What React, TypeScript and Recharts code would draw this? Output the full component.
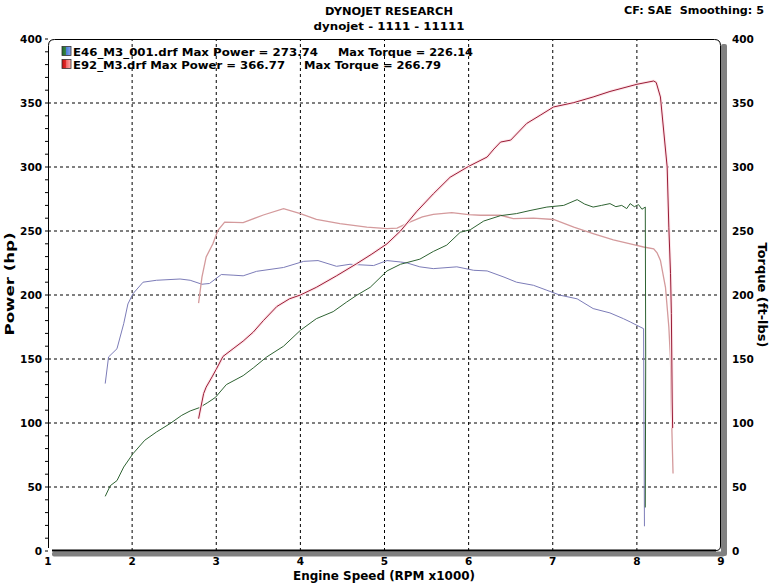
import React from 'react';
import { LineChart, Line, XAxis, YAxis, ReferenceLine } from 'recharts';

// ---- data (rpm x1000, value) ----
const e46PowerPts: [number, number][] = [
  [1.68, 42.7], [1.74, 51], [1.82, 55], [1.9, 65.6], [2.01, 76], [2.15, 86.5], [2.29, 93],
  [2.45, 99.5], [2.59, 106], [2.69, 109.4], [2.8, 112], [2.9, 116], [2.99, 120], [3.12, 130],
  [3.32, 137], [3.44, 143], [3.6, 151.6], [3.8, 160], [4.0, 172.4], [4.19, 181.5], [4.39, 187],
  [4.55, 194.5], [4.67, 199.8], [4.83, 206], [5.03, 218.8], [5.19, 224], [5.42, 228], [5.58, 234],
  [5.74, 239], [5.9, 249], [6.02, 251], [6.18, 257.8], [6.38, 262], [6.57, 263.6], [6.73, 266],
  [6.93, 268.7], [7.13, 270], [7.29, 274.5], [7.38, 271], [7.48, 268.7], [7.58, 270], [7.68, 271.4],
  [7.75, 269], [7.82, 270], [7.88, 267.5], [7.92, 271.4], [7.97, 269], [8.02, 270.6], [8.06, 267],
  [8.1, 268.7], [8.105, 150], [8.1, 34],
];

const e46TorquePts: [number, number][] = [
  [1.68, 130.8], [1.72, 151.6], [1.82, 158], [1.9, 177.6], [1.95, 193], [2.01, 201], [2.13, 210],
  [2.29, 211.5], [2.57, 212.5], [2.69, 211.5], [2.83, 208.4], [2.92, 209], [3.06, 216], [3.2, 215.5],
  [3.32, 215], [3.48, 218.5], [3.8, 221.5], [4.04, 226.3], [4.21, 226.9], [4.43, 222.4], [4.59, 224],
  [4.87, 223], [5.03, 226.9], [5.19, 225.8], [5.27, 225], [5.42, 222], [5.58, 220.6], [5.86, 222],
  [6.06, 219.3], [6.22, 218.8], [6.42, 214], [6.57, 210], [6.77, 207.6], [6.93, 203.7], [7.09, 199.8],
  [7.29, 197], [7.48, 189.4], [7.68, 186], [7.84, 181.5], [7.92, 179], [8.0, 176.3], [8.08, 173.7],
  [8.09, 19.3],
];

const e92PowerPts: [number, number][] = [
  [2.79, 103.4], [2.85, 123], [2.88, 128], [2.95, 136], [3.0, 142], [3.08, 152], [3.2, 158],
  [3.32, 164], [3.44, 171], [3.56, 180], [3.72, 191], [3.87, 197], [4.0, 200], [4.19, 206],
  [4.43, 215], [4.67, 224.5], [4.85, 232], [5.03, 240], [5.19, 250], [5.38, 265], [5.58, 279],
  [5.78, 292], [6.0, 300.5], [6.22, 307.8], [6.3, 314], [6.38, 319.5], [6.5, 321], [6.69, 334],
  [6.85, 340.4], [7.01, 346.9], [7.25, 350.3], [7.48, 354.7], [7.68, 359], [8.0, 364.6],
  [8.2, 367.2], [8.23, 366], [8.28, 354.7], [8.36, 300], [8.38, 253], [8.4, 216.7], [8.41, 185.5],
  [8.42, 116.4], [8.425, 96],
];

const e92TorquePts: [number, number][] = [
  [2.79, 193.7], [2.83, 214], [2.88, 229.7], [2.96, 240], [3.02, 250.5], [3.1, 257], [3.32, 256.5],
  [3.56, 262.5], [3.8, 267.5], [4.0, 263.6], [4.19, 259], [4.47, 255.8], [4.79, 253], [5.03, 251.8],
  [5.15, 252.3], [5.3, 257], [5.45, 261], [5.58, 263], [5.8, 264.4], [6.0, 262.8], [6.14, 262.3],
  [6.38, 262.3], [6.53, 259.7], [6.77, 260], [7.01, 259], [7.25, 253], [7.48, 248], [7.72, 243],
  [7.96, 239.4], [8.08, 237.5], [8.2, 236], [8.24, 233], [8.28, 227], [8.34, 206], [8.38, 175],
  [8.4, 149], [8.41, 110], [8.43, 60.5],
];

const rpmTicks = [1, 2, 3, 4, 5, 6, 7, 8, 9];
const rpmGrid = [2, 3, 4, 5, 6, 7, 8];
const valueGrid = [50, 100, 150, 200, 250, 300, 350];
const valueTicks = Array.from({ length: 41 }, (_, i) => i * 10);
const rpmMinorTicks = Array.from({ length: 41 }, (_, i) => Math.round((1 + i * 0.2) * 10) / 10);

const legendRows = [
  { file: 'E46_M3_001.drf Max Power = 273.74', torque: 'Max Torque = 226.14' },
  { file: 'E92_M3.drf Max Power = 366.77', torque: 'Max Torque = 266.79' },
];

const toRows = (pts: [number, number][]) => pts.map(([rpm, v]) => ({ rpm, v }));

const FONT = "'DejaVu Sans', Verdana, sans-serif";
const W = 769;
const H = 583;

const tickStyle = { fill: '#000', fontSize: 10.5, fontFamily: FONT, fontWeight: 'bold' as const };
const fmt50 = (v: number) => (v % 50 === 0 ? String(v) : '');

export default function App() {
  return (
    <div style={{ position: 'absolute', left: 0, top: 0, width: W, height: H, background: '#fff' }}>
      <LineChart width={W} height={H} margin={{ top: 39, right: 8, bottom: 12, left: 8 }}>
        <XAxis
          xAxisId="x"
          dataKey="rpm"
          type="number"
          domain={[1, 9]}
          ticks={rpmTicks}
          allowDataOverflow
          height={20}
          axisLine={false}
          tickLine={false}
          tickSize={4}
          tickMargin={3}
          tick={tickStyle}
          interval={0}
        />
        <XAxis
          xAxisId="xm"
          type="number"
          domain={[1, 9]}
          ticks={rpmMinorTicks}
          allowDataOverflow
          mirror
          height={20}
          axisLine={false}
          tickLine={{ stroke: '#000' }}
          tickSize={3}
          tick={false}
          interval={0}
        />
        <YAxis
          yAxisId="left"
          type="number"
          domain={[0, 400]}
          ticks={valueTicks}
          allowDataOverflow
          width={40}
          axisLine={false}
          tickLine={{ stroke: '#000' }}
          tickSize={3}
          tickMargin={3}
          tickFormatter={fmt50}
          tick={tickStyle}
          interval={0}
        />
        <YAxis
          yAxisId="leftm"
          type="number"
          domain={[0, 400]}
          ticks={valueTicks}
          allowDataOverflow
          mirror
          width={40}
          axisLine={false}
          tickLine={{ stroke: '#000' }}
          tickSize={4}
          tick={false}
          interval={0}
        />
        <YAxis
          yAxisId="right"
          orientation="right"
          type="number"
          domain={[0, 400]}
          ticks={valueTicks}
          allowDataOverflow
          width={40}
          axisLine={false}
          tickLine={false}
          tickSize={4}
          tickMargin={7}
          tickFormatter={fmt50}
          tick={tickStyle}
          interval={0}
        />
        <YAxis
          yAxisId="rightm"
          orientation="right"
          type="number"
          domain={[0, 400]}
          ticks={valueTicks}
          allowDataOverflow
          mirror
          width={40}
          axisLine={false}
          tickLine={{ stroke: '#000' }}
          tickSize={4}
          tick={false}
          interval={0}
        />

        {rpmGrid.map((g) => (
          <ReferenceLine key={'vx' + g} xAxisId="x" yAxisId="left" x={g} stroke="#000" strokeDasharray="3 3" />
        ))}
        {valueGrid.map((g) => (
          <ReferenceLine key={'hy' + g} xAxisId="x" yAxisId="left" y={g} stroke="#000" strokeDasharray="3 3" />
        ))}

        <Line data={toRows(e46TorquePts)} dataKey="v" xAxisId="x" yAxisId="left" type="linear" dot={false}
          stroke="#7c7cb8" strokeWidth={1} isAnimationActive={false} />
        <Line data={toRows(e92TorquePts)} dataKey="v" xAxisId="x" yAxisId="left" type="linear" dot={false}
          stroke="#d49a9c" strokeWidth={1.3} isAnimationActive={false} />
        <Line data={toRows(e46PowerPts)} dataKey="v" xAxisId="x" yAxisId="left" type="linear" dot={false}
          stroke="#2e6332" strokeWidth={1} isAnimationActive={false} />
        <Line data={toRows(e92PowerPts)} dataKey="v" xAxisId="x" yAxisId="left" type="linear" dot={false}
          stroke="#fde6ea" strokeWidth={3} isAnimationActive={false} />
        <Line data={toRows(e92PowerPts)} dataKey="v" xAxisId="x" yAxisId="left" type="linear" dot={false}
          stroke="#9a1c36" strokeWidth={1} isAnimationActive={false} />
      </LineChart>

      <svg width={W} height={H} style={{ position: 'absolute', left: 0, top: 0, pointerEvents: 'none' }}>
        <defs>
          <linearGradient id="g46" x1="0" x2="1" y1="0" y2="0">
            <stop offset="0" stopColor="#1f6a2c" />
            <stop offset="0.5" stopColor="#3f8a4a" />
            <stop offset="0.5" stopColor="#4f7fd8" />
            <stop offset="1" stopColor="#8aa8f0" />
          </linearGradient>
          <linearGradient id="g92" x1="0" x2="1" y1="0" y2="0">
            <stop offset="0" stopColor="#c01010" />
            <stop offset="0.5" stopColor="#e83030" />
            <stop offset="0.5" stopColor="#f06a6a" />
            <stop offset="1" stopColor="#ffb0b0" />
          </linearGradient>
        </defs>

        {/* frame */}
        <rect x={721} y={44} width={6} height={512} fill="#808080" rx={2} />
        <rect x={52} y={551.5} width={673} height={5} fill="#808080" rx={2} />
        <path
          d="M48.5 548 L48.5 45.5 Q48.5 39.5 54.5 39.5 L714.5 39.5 Q720.5 39.5 720.5 45.5 L720.5 546 Q720.5 550.5 716 550.5"
          fill="none" stroke="#000" strokeWidth={1}
        />
        <line x1={52} y1={550.5} x2={716} y2={550.5} stroke="#000" strokeWidth={2} />

        {/* titles */}
        <text x={389} y={15} textAnchor="middle" fontFamily={FONT} fontWeight="bold" fontSize={11}
          textLength={128} lengthAdjust="spacingAndGlyphs">DYNOJET RESEARCH</text>
        <text x={389} y={30} textAnchor="middle" fontFamily={FONT} fontWeight="bold" fontSize={11}
          textLength={151} lengthAdjust="spacingAndGlyphs">dynojet - 1111 - 11111</text>
        <text x={624} y={14} fontFamily={FONT} fontWeight="bold" fontSize={11}
          textLength={140} lengthAdjust="spacingAndGlyphs">{'CF: SAE\u00a0\u00a0Smoothing: 5'}</text>

        {/* legend */}
        <rect x={62} y={46.5} width={9} height={9} fill="url(#g46)" stroke="#333" strokeWidth={0.8} />
        <rect x={62} y={59.5} width={9} height={9} fill="url(#g92)" stroke="#333" strokeWidth={0.8} />
        <text x={73} y={55.5} fontFamily={FONT} fontWeight="bold" fontSize={11}
          textLength={245} lengthAdjust="spacingAndGlyphs">{legendRows[0].file}</text>
        <text x={338} y={55.5} fontFamily={FONT} fontWeight="bold" fontSize={11}
          textLength={135} lengthAdjust="spacingAndGlyphs">{legendRows[0].torque}</text>
        <text x={73} y={68.5} fontFamily={FONT} fontWeight="bold" fontSize={11}
          textLength={212} lengthAdjust="spacingAndGlyphs">{legendRows[1].file}</text>
        <text x={304} y={68.5} fontFamily={FONT} fontWeight="bold" fontSize={11}
          textLength={137} lengthAdjust="spacingAndGlyphs">{legendRows[1].torque}</text>

        {/* axis titles */}
        <text x={384} y={580} textAnchor="middle" fontFamily={FONT} fontWeight="bold" fontSize={11.5}
          textLength={182} lengthAdjust="spacingAndGlyphs">Engine Speed (RPM x1000)</text>
        <text x={0} y={0} textAnchor="middle" fontFamily={FONT} fontWeight="bold" fontSize={11.5}
          transform="translate(14 284) rotate(-90)" textLength={103} lengthAdjust="spacingAndGlyphs">Power (hp)</text>
        <text x={0} y={0} textAnchor="middle" fontFamily={FONT} fontWeight="bold" fontSize={11.5}
          transform="translate(758 295) rotate(90)" textLength={105} lengthAdjust="spacingAndGlyphs">Torque (ft-lbs)</text>
      </svg>
    </div>
  );
}
